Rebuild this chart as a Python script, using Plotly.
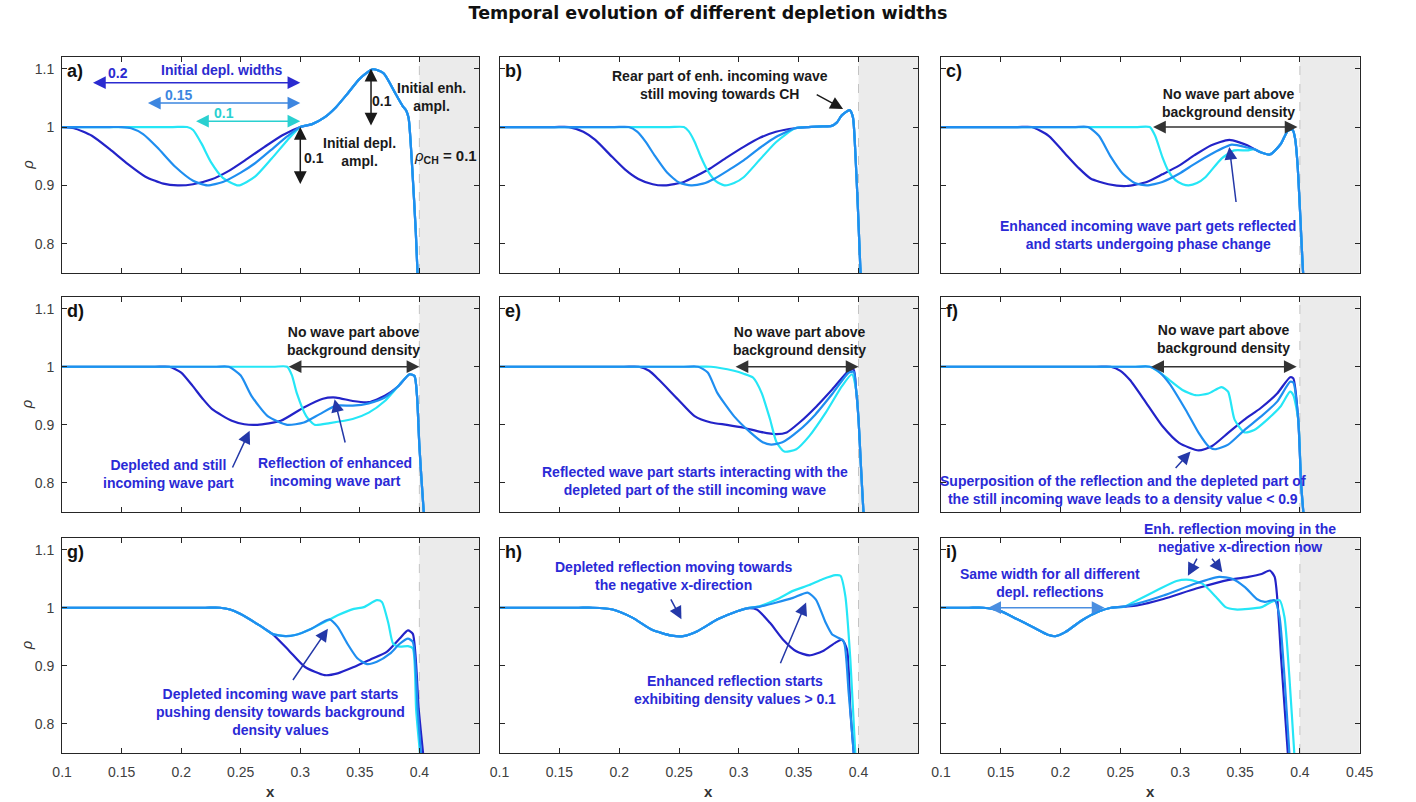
import plotly.graph_objects as go

# ---------------- data ----------------
# panel a
A_DARK_X = [0.10, 0.11, 0.125, 0.14, 0.155, 0.17, 0.185, 0.197, 0.21, 0.225, 0.24, 0.255, 0.27, 0.285]
A_DARK_Y = [1.0, 0.998, 0.985, 0.962, 0.937, 0.915, 0.903, 0.900, 0.902, 0.910, 0.925, 0.945, 0.966, 0.986]
A_MED_X = [0.10, 0.14, 0.15, 0.158, 0.168, 0.18, 0.195, 0.21, 0.222, 0.235, 0.25, 0.262, 0.275, 0.289]
A_MED_Y = [1.0, 1.0, 1.0, 0.998, 0.988, 0.965, 0.932, 0.908, 0.900, 0.906, 0.922, 0.938, 0.960, 0.984]
A_CYAN_X = [0.10, 0.193, 0.205, 0.21, 0.217, 0.225, 0.235, 0.248, 0.262, 0.276, 0.289]
A_CYAN_Y = [1.0, 1.0, 1.0, 0.995, 0.972, 0.940, 0.913, 0.900, 0.915, 0.946, 0.977]
A_TAIL_X = [0.30, 0.31, 0.32, 0.33, 0.34, 0.35, 0.361, 0.37, 0.38, 0.386, 0.389, 0.391, 0.394, 0.397, 0.3995]
A_TAIL_Y = [1.0, 1.005, 1.016, 1.034, 1.058, 1.083, 1.099, 1.092, 1.057, 1.036, 1.028, 1.015, 0.93, 0.82, 0.70]

# panel b
B_DARK_X = [0.10, 0.146, 0.158, 0.17, 0.18, 0.194, 0.205, 0.216, 0.228, 0.238, 0.254, 0.265, 0.276, 0.29, 0.304, 0.318, 0.331]
B_DARK_Y = [1.0, 1.0, 1.0, 0.992, 0.978, 0.949, 0.927, 0.911, 0.902, 0.900, 0.906, 0.917, 0.929, 0.948, 0.966, 0.982, 0.992]
B_MED_X = [0.10, 0.196, 0.208, 0.215, 0.222, 0.23, 0.24, 0.25, 0.26, 0.27, 0.28, 0.292, 0.304, 0.318, 0.331]
B_MED_Y = [1.0, 1.0, 1.0, 0.992, 0.975, 0.950, 0.922, 0.905, 0.900, 0.903, 0.912, 0.927, 0.943, 0.965, 0.983]
B_CYAN_X = [0.10, 0.242, 0.254, 0.258, 0.263, 0.268, 0.274, 0.281, 0.288, 0.296, 0.304, 0.317, 0.331]
B_CYAN_Y = [1.0, 1.0, 1.0, 0.993, 0.975, 0.950, 0.925, 0.907, 0.900, 0.904, 0.914, 0.943, 0.974]
B_TAIL_X = [0.347, 0.358, 0.37, 0.3775, 0.382, 0.386, 0.3926, 0.3953, 0.3975, 0.3995, 0.4015, 0.403]
B_TAIL_Y = [0.998, 1.0, 1.001, 1.002, 1.008, 1.02, 1.029, 1.017, 0.95, 0.86, 0.76, 0.70]

# panel c
C_DARK_X = [0.10, 0.164, 0.176, 0.19, 0.204, 0.215, 0.225, 0.24, 0.255, 0.272, 0.285, 0.299, 0.312, 0.326, 0.341, 0.356]
C_DARK_Y = [1.0, 1.0, 1.0, 0.985, 0.954, 0.930, 0.912, 0.902, 0.899, 0.906, 0.919, 0.934, 0.952, 0.969, 0.978, 0.969]
C_MED_X = [0.10, 0.211, 0.223, 0.232, 0.242, 0.252, 0.262, 0.272, 0.285, 0.299, 0.312, 0.326, 0.343, 0.356]
C_MED_Y = [1.0, 1.0, 1.0, 0.985, 0.949, 0.920, 0.904, 0.900, 0.906, 0.920, 0.937, 0.954, 0.970, 0.965]
C_CYAN_X = [0.10, 0.2625, 0.2745, 0.279, 0.285, 0.29, 0.296, 0.302, 0.307, 0.314, 0.321, 0.3345, 0.345, 0.356]
C_CYAN_Y = [1.0, 1.0, 1.0, 0.985, 0.949, 0.925, 0.909, 0.902, 0.900, 0.904, 0.914, 0.946, 0.960, 0.960]
C_TAIL_X = [0.362, 0.367, 0.375, 0.384, 0.39, 0.394, 0.396, 0.398, 0.4005, 0.4027, 0.405]
C_TAIL_Y = [0.962, 0.957, 0.953, 0.971, 0.994, 0.995, 0.980, 0.937, 0.84, 0.75, 0.70]

# panel d
D_DARK_X = [0.10, 0.178, 0.19, 0.20, 0.2096, 0.218, 0.226, 0.2425, 0.253, 0.264, 0.2836, 0.303, 0.319, 0.33, 0.344, 0.3575, 0.371]
D_DARK_Y = [1.0, 1.0, 1.0, 0.990, 0.967, 0.945, 0.927, 0.907, 0.901, 0.900, 0.907, 0.930, 0.945, 0.947, 0.941, 0.939, 0.950]
D_MED_X = [0.10, 0.228, 0.24, 0.25, 0.259, 0.2726, 0.289, 0.303, 0.316, 0.33, 0.344, 0.3575, 0.371]
D_MED_Y = [1.0, 1.0, 1.0, 0.985, 0.950, 0.915, 0.900, 0.904, 0.918, 0.933, 0.933, 0.937, 0.947]
D_CYAN_X = [0.10, 0.277, 0.289, 0.293, 0.297, 0.305, 0.312, 0.3247, 0.344, 0.3575, 0.371]
D_CYAN_Y = [1.0, 1.0, 1.0, 0.985, 0.955, 0.915, 0.900, 0.903, 0.910, 0.921, 0.941]
D_TAIL_X = [0.382, 0.3918, 0.3959, 0.398, 0.40, 0.4035, 0.406]
D_TAIL_Y = [0.966, 0.987, 0.984, 0.950, 0.864, 0.755, 0.70]

# panel e
E_DARK_X = [0.10, 0.204, 0.2164, 0.225, 0.233, 0.249, 0.263, 0.2767, 0.29, 0.304, 0.318, 0.3315, 0.34, 0.3507, 0.364, 0.378, 0.392, 0.396]
E_DARK_Y = [1.0, 1.0, 1.0, 0.993, 0.978, 0.944, 0.915, 0.904, 0.900, 0.895, 0.888, 0.884, 0.887, 0.904, 0.930, 0.961, 0.993, 0.995]
E_MED_X = [0.10, 0.254, 0.266, 0.274, 0.282, 0.2959, 0.3096, 0.32, 0.327, 0.3364, 0.35, 0.364, 0.378, 0.392, 0.396]
E_MED_Y = [1.0, 1.0, 1.0, 0.990, 0.955, 0.915, 0.887, 0.870, 0.866, 0.870, 0.890, 0.918, 0.953, 0.990, 0.991]
E_CYAN_X = [0.10, 0.2647, 0.2767, 0.2959, 0.304, 0.312, 0.319, 0.326, 0.3315, 0.338, 0.348, 0.359, 0.3726, 0.3863, 0.3945]
E_CYAN_Y = [1.0, 1.0, 1.0, 0.993, 0.988, 0.981, 0.955, 0.910, 0.870, 0.854, 0.858, 0.881, 0.921, 0.967, 0.987]
E_TAIL_X = [0.398, 0.40, 0.402, 0.404, 0.406]
E_TAIL_Y = [0.960, 0.910, 0.830, 0.755, 0.70]

# panel f
F_DARK_X = [0.10, 0.23, 0.2418, 0.25, 0.258, 0.2718, 0.2854, 0.299, 0.3154, 0.3263, 0.34, 0.3536, 0.3673, 0.381, 0.3918, 0.3945]
F_DARK_Y = [1.0, 1.0, 1.0, 0.993, 0.977, 0.937, 0.897, 0.869, 0.856, 0.863, 0.886, 0.909, 0.929, 0.954, 0.982, 0.980]
F_MED_X = [0.10, 0.2625, 0.2745, 0.283, 0.291, 0.3045, 0.3154, 0.3236, 0.329, 0.34, 0.3536, 0.3673, 0.381, 0.3918, 0.3945]
F_MED_Y = [1.0, 1.0, 1.0, 0.990, 0.971, 0.926, 0.886, 0.863, 0.858, 0.866, 0.891, 0.914, 0.940, 0.974, 0.973]
F_CYAN_X = [0.10, 0.2625, 0.2745, 0.283, 0.291, 0.3018, 0.3127, 0.3236, 0.3345, 0.34, 0.3454, 0.3536, 0.3618, 0.3727, 0.3836, 0.3918, 0.3945]
F_CYAN_Y = [1.0, 1.0, 1.0, 0.990, 0.977, 0.960, 0.951, 0.954, 0.965, 0.957, 0.909, 0.887, 0.891, 0.909, 0.931, 0.957, 0.951]
F_TAIL_X = [0.3986, 0.401, 0.4027, 0.405]
F_TAIL_Y = [0.909, 0.800, 0.754, 0.70]

# panel g
G_HEAD_X = [0.10, 0.22, 0.2326, 0.241, 0.249, 0.2655, 0.2765]
G_HEAD_Y = [1.0, 1.0, 1.0, 0.997, 0.990, 0.970, 0.955]
G_DARK_X = [0.2902, 0.304, 0.3204, 0.3314, 0.345, 0.3589, 0.3726, 0.3835, 0.3904, 0.3945, 0.3995, 0.4031, 0.406]
G_DARK_Y = [0.927, 0.898, 0.884, 0.887, 0.898, 0.911, 0.924, 0.947, 0.961, 0.955, 0.824, 0.75, 0.70]
G_MED_X = [0.2875, 0.2957, 0.3094, 0.3245, 0.3314, 0.3396, 0.3479, 0.356, 0.3643, 0.3753, 0.3835, 0.3904, 0.3945, 0.3986, 0.4014, 0.404]
G_MED_Y = [0.951, 0.953, 0.964, 0.980, 0.967, 0.938, 0.913, 0.903, 0.907, 0.921, 0.938, 0.947, 0.941, 0.824, 0.75, 0.70]
G_CYAN_X = [0.2875, 0.2957, 0.3094, 0.323, 0.3314, 0.345, 0.3534, 0.3643, 0.3685, 0.374, 0.378, 0.3835, 0.3904, 0.3945, 0.3973, 0.4005, 0.403]
G_CYAN_Y = [0.951, 0.953, 0.964, 0.978, 0.987, 0.998, 1.001, 1.013, 1.010, 0.973, 0.938, 0.933, 0.934, 0.930, 0.824, 0.75, 0.70]

# panel h
H_HEAD_X = [0.10, 0.166, 0.178, 0.1945, 0.211, 0.2274, 0.2438, 0.2534, 0.2658, 0.2822, 0.2986, 0.3068]
H_HEAD_Y = [1.0, 1.0, 1.0, 0.997, 0.983, 0.962, 0.952, 0.951, 0.960, 0.980, 0.994, 0.999]
H_DARK_X = [0.315, 0.326, 0.337, 0.348, 0.3589, 0.3699, 0.3808, 0.3863, 0.3904, 0.3932, 0.396, 0.398]
H_DARK_Y = [0.997, 0.974, 0.945, 0.925, 0.918, 0.925, 0.940, 0.945, 0.928, 0.824, 0.75, 0.70]
H_MED_X = [0.3178, 0.3315, 0.3452, 0.3575, 0.3644, 0.3726, 0.378, 0.3836, 0.3877, 0.3918, 0.396, 0.398]
H_MED_Y = [1.002, 1.009, 1.017, 1.026, 1.014, 0.974, 0.954, 0.948, 0.942, 0.853, 0.75, 0.70]
H_CYAN_X = [0.3178, 0.3315, 0.3452, 0.3589, 0.3699, 0.3808, 0.3849, 0.389, 0.3932, 0.3973, 0.399]
H_CYAN_Y = [1.003, 1.014, 1.029, 1.039, 1.049, 1.056, 1.055, 1.020, 0.910, 0.75, 0.70]

# panel i
I_HEAD_X = [0.10, 0.1235, 0.1355, 0.149, 0.163, 0.1766, 0.19, 0.1957, 0.2039, 0.2176, 0.2313, 0.2422, 0.2531]
I_HEAD_Y = [1.0, 1.0, 1.0, 0.995, 0.981, 0.967, 0.953, 0.951, 0.958, 0.978, 0.993, 1.0, 1.002]
I_DARK_X = [0.264, 0.2859, 0.3133, 0.3406, 0.357, 0.368, 0.3748, 0.3789, 0.3844, 0.3899, 0.392]
I_DARK_Y = [1.004, 1.015, 1.033, 1.048, 1.053, 1.058, 1.064, 1.053, 0.910, 0.75, 0.70]
I_MED_X = [0.264, 0.2859, 0.3133, 0.3324, 0.3434, 0.3543, 0.3639, 0.3707, 0.3789, 0.383, 0.3871, 0.3912, 0.393]
I_MED_Y = [1.007, 1.021, 1.042, 1.053, 1.050, 1.035, 1.015, 1.010, 1.013, 0.984, 0.881, 0.75, 0.70]
I_CYAN_X = [0.264, 0.2805, 0.2969, 0.3078, 0.3188, 0.3297, 0.3379, 0.3461, 0.357, 0.368, 0.3762, 0.383, 0.3871, 0.3912, 0.3953, 0.397]
I_CYAN_Y = [1.013, 1.030, 1.046, 1.048, 1.041, 1.019, 1.001, 0.997, 0.998, 1.001, 1.010, 1.013, 0.984, 0.881, 0.75, 0.70]

PANEL_LABELS = ["a)", "b)", "c)", "d)", "e)", "f)", "g)", "h)", "i)"]
X_TICKS = [0.1, 0.15, 0.2, 0.25, 0.3, 0.35, 0.4]
X_TICKS_LAST = [0.1, 0.15, 0.2, 0.25, 0.3, 0.35, 0.4, 0.45]
Y_TICKS = [0.8, 0.9, 1.0, 1.1]
Y_TICK_TEXT = ["0.8", "0.9", "1", "1.1"]

# curves per panel: (dark, medium, cyan), each as (x, y)
CURVES = [
    ((A_DARK_X + A_TAIL_X, A_DARK_Y + A_TAIL_Y), (A_MED_X + A_TAIL_X, A_MED_Y + A_TAIL_Y), (A_CYAN_X + A_TAIL_X, A_CYAN_Y + A_TAIL_Y)),
    ((B_DARK_X + B_TAIL_X, B_DARK_Y + B_TAIL_Y), (B_MED_X + B_TAIL_X, B_MED_Y + B_TAIL_Y), (B_CYAN_X + B_TAIL_X, B_CYAN_Y + B_TAIL_Y)),
    ((C_DARK_X + C_TAIL_X, C_DARK_Y + C_TAIL_Y), (C_MED_X + C_TAIL_X, C_MED_Y + C_TAIL_Y), (C_CYAN_X + C_TAIL_X, C_CYAN_Y + C_TAIL_Y)),
    ((D_DARK_X + D_TAIL_X, D_DARK_Y + D_TAIL_Y), (D_MED_X + D_TAIL_X, D_MED_Y + D_TAIL_Y), (D_CYAN_X + D_TAIL_X, D_CYAN_Y + D_TAIL_Y)),
    ((E_DARK_X + E_TAIL_X, E_DARK_Y + E_TAIL_Y), (E_MED_X + E_TAIL_X, E_MED_Y + E_TAIL_Y), (E_CYAN_X + E_TAIL_X, E_CYAN_Y + E_TAIL_Y)),
    ((F_DARK_X + F_TAIL_X, F_DARK_Y + F_TAIL_Y), (F_MED_X + F_TAIL_X, F_MED_Y + F_TAIL_Y), (F_CYAN_X + F_TAIL_X, F_CYAN_Y + F_TAIL_Y)),
    ((G_HEAD_X + G_DARK_X, G_HEAD_Y + G_DARK_Y), (G_HEAD_X + G_MED_X, G_HEAD_Y + G_MED_Y), (G_HEAD_X + G_CYAN_X, G_HEAD_Y + G_CYAN_Y)),
    ((H_HEAD_X + H_DARK_X, H_HEAD_Y + H_DARK_Y), (H_HEAD_X + H_MED_X, H_HEAD_Y + H_MED_Y), (H_HEAD_X + H_CYAN_X, H_HEAD_Y + H_CYAN_Y)),
    ((I_HEAD_X + I_DARK_X, I_HEAD_Y + I_DARK_Y), (I_HEAD_X + I_MED_X, I_HEAD_Y + I_MED_Y), (I_HEAD_X + I_CYAN_X, I_HEAD_Y + I_CYAN_Y)),
]

# ---------------- style / layout ----------------
W, H = 1416, 802
COLS = [(53, 477), (498, 924), (947, 1373)]
ROWS = [(57, 273), (297, 512), (538, 753)]
FONT = "Liberation Sans, Arial, sans-serif"
DARK = "#2323c8"
MED = "#1f8ef0"
CYAN = "#25e6f6"
ANN_BLUE = "#2a2ad6"
ARR_BLUE = "#2438a8"
BLACK = "#1a1a1a"
AXC = "#262626"

fig = go.Figure()


def sfx(k):
    return "" if k == 1 else str(k)


for k in range(1, 10):
    r, c = (k - 1) // 3, (k - 1) % 3
    s = sfx(k)
    dark, med, cyan = CURVES[k - 1]
    for (xs, ys), col in ((dark, DARK), (cyan, CYAN), (med, MED)):
        fig.add_trace(go.Scatter(x=xs, y=ys, mode="lines", xaxis="x" + s, yaxis="y" + s,
                                 line=dict(color=col, width=2.2, shape="spline", smoothing=0.6),
                                 showlegend=False, hoverinfo="skip"))
    xt = X_TICKS_LAST if c == 2 else X_TICKS
    fig.layout["xaxis" + s] = dict(
        domain=[COLS[c][0] / W, COLS[c][1] / W], range=[0.1, 0.45], anchor="y" + s,
        tickvals=xt, ticktext=[f"{v:g}" for v in xt],
        showticklabels=(r == 2), ticks="inside", ticklen=5, tickcolor=AXC, ticklabelstandoff=6,
        showline=True, linecolor=AXC, linewidth=1, mirror="ticks", showgrid=False, zeroline=False,
        tickfont=dict(family=FONT, size=14, color="#404040"))
    fig.layout["yaxis" + s] = dict(
        domain=[1 - ROWS[r][1] / H, 1 - ROWS[r][0] / H], range=[0.75, 1.12], anchor="x" + s,
        tickvals=Y_TICKS, ticktext=Y_TICK_TEXT, showticklabels=(c == 0),
        ticks="inside", ticklen=5, tickcolor=AXC, ticklabelstandoff=4,
        showline=True, linecolor=AXC, linewidth=1, mirror="ticks", showgrid=False, zeroline=False,
        tickfont=dict(family=FONT, size=14, color="#404040"))
    # coronal hole region
    fig.add_shape(type="rect", xref="x" + s, yref="y" + s + " domain", x0=0.4, x1=0.45, y0=0, y1=1,
                  fillcolor="#ebebeb", line=dict(width=0), layer="below")
    fig.add_shape(type="line", xref="x" + s, yref="y" + s + " domain", x0=0.4, x1=0.4, y0=0, y1=1,
                  line=dict(color="#c4c4c4", width=1, dash="dash"), layer="below")
    # panel label
    fig.add_annotation(xref="x" + s, yref="y" + s, x=0.1025, y=1.096, text="<b>" + PANEL_LABELS[k - 1] + "</b>",
                       showarrow=False, xanchor="left", yanchor="middle",
                       font=dict(family=FONT, size=18, color="#111111"))
    # axis labels
    if r == 2:
        fig.add_annotation(xref="paper", yref="paper", x=(COLS[c][0] + COLS[c][1]) / 2 / W, y=1 - 791 / H,
                           text="<b>x</b>", showarrow=False, xanchor="center", yanchor="middle",
                           font=dict(family=FONT, size=15, color="#333333"))
    if c == 0:
        fig.add_annotation(xref="paper", yref="paper", x=17 / W, y=1 - (ROWS[r][0] + ROWS[r][1]) / 2 / H,
                           text="<i>ρ</i>", showarrow=False, textangle=-90, xanchor="center", yanchor="middle",
                           font=dict(family=FONT, size=15, color="#333333"))


def txt(k, x, y, t, color=BLACK, size=14):
    s = sfx(k)
    fig.add_annotation(xref="x" + s, yref="y" + s, x=x, y=y, text="<b>" + t + "</b>", showarrow=False,
                       align="center", xanchor="center", yanchor="middle",
                       font=dict(family=FONT, size=size, color=color))


def arrow(k, x0, y0, x1, y1, color=BLACK, both=False, width=1.5, size=1.7):
    s = sfx(k)
    fig.add_annotation(xref="x" + s, yref="y" + s, axref="x" + s, ayref="y" + s,
                       x=x1, y=y1, ax=x0, ay=y0, text="", showarrow=True,
                       arrowhead=2, arrowsize=size, arrowwidth=width, arrowcolor=color,
                       arrowside="end+start" if both else "end",
                       startarrowhead=2, startarrowsize=size, standoff=0, startstandoff=0)


# panel a
arrow(1, 0.1247, 1.076, 0.3, 1.076, "#2b2bd0", both=True)
txt(1, 0.1467, 1.092, "0.2", "#2b2bd0")
txt(1, 0.234, 1.097, "Initial depl. widths", "#2b2bd0")
arrow(1, 0.1708, 1.041, 0.3, 1.041, "#3d86e0", both=True)
txt(1, 0.1975, 1.055, "0.15", "#3d86e0")
arrow(1, 0.2112, 1.010, 0.3, 1.010, "#2ad0d0", both=True)
txt(1, 0.2359, 1.024, "0.1", "#2ad0d0")
arrow(1, 0.3, 0.9, 0.3, 1.0, BLACK, both=True)
txt(1, 0.3114, 0.947, "0.1")
txt(1, 0.35, 0.958, "Initial depl.<br>ampl.")
arrow(1, 0.3594, 1.0, 0.3594, 1.1, BLACK, both=True)
txt(1, 0.369, 1.045, "0.1")
txt(1, 0.41, 1.052, "Initial enh.<br>ampl.")
fig.add_annotation(xref="x", yref="y", x=0.4217, y=0.949, showarrow=False,
                   text="<i>ρ</i><sub><b>CH</b></sub><b> = 0.1</b>",
                   font=dict(family=FONT, size=15, color=BLACK))
txt(1, 0.398, 1.136, "QS CH")
arrow(1, 0.380, 1.136, 0.3564, 1.136, BLACK)
arrow(1, 0.417, 1.136, 0.4426, 1.136, BLACK)

# panel b
txt(2, 0.2844, 1.0715, "Rear part of enh. incoming wave<br>still moving towards CH")
arrow(2, 0.3638, 1.057, 0.3871, 1.031, BLACK)

# panel c
arrow(3, 0.276, 1.0, 0.398, 1.0, "#333333", both=True)
txt(3, 0.34, 1.0415, "No wave part above<br>background density")
arrow(3, 0.3468, 0.869, 0.341, 0.966, ARR_BLUE)
txt(3, 0.273, 0.8155, "Enhanced incoming wave part gets reflected<br>and starts undergoing phase change", ANN_BLUE)

# panel d
arrow(4, 0.289, 1.0, 0.4, 1.0, "#333333", both=True)
txt(4, 0.345, 1.045, "No wave part above<br>background density")
arrow(4, 0.2425, 0.824, 0.2575, 0.89, ARR_BLUE)
txt(4, 0.189, 0.8155, "Depleted and still<br>incoming wave part", ANN_BLUE)
arrow(4, 0.338, 0.867, 0.3288, 0.944, ARR_BLUE)
txt(4, 0.3288, 0.8195, "Reflection of enhanced<br>incoming wave part", ANN_BLUE)

# panel e
arrow(5, 0.296, 1.0, 0.4, 1.0, "#333333", both=True)
txt(5, 0.3507, 1.0435, "No wave part above<br>background density")
txt(5, 0.263, 0.804, "Reflected wave part starts interacting with the<br>depleted part of the still incoming wave", ANN_BLUE)

# panel f
arrow(6, 0.2745, 1.0, 0.3973, 1.0, "#333333", both=True)
txt(6, 0.3359, 1.047, "No wave part above<br>background density")
arrow(6, 0.295, 0.823, 0.3086, 0.854, ARR_BLUE)
txt(6, 0.2519, 0.788, "Superposition of the reflection and the depleted part of<br>the still incoming wave leads to a density value &lt; 0.9", ANN_BLUE)

# panel g
arrow(7, 0.293, 0.873, 0.3232, 0.964, ARR_BLUE)
txt(7, 0.2834, 0.821, "Depleted incoming wave part starts<br>pushing density towards background<br>density values", ANN_BLUE)

# panel h
arrow(8, 0.2425, 1.017, 0.252, 0.98, ARR_BLUE)
txt(8, 0.2452, 1.054, "Depleted reflection moving towards<br>the negative x-direction", ANN_BLUE)
arrow(8, 0.3342, 0.902, 0.3562, 1.009, ARR_BLUE)
txt(8, 0.2964, 0.859, "Enhanced reflection starts<br>exhibiting density values &gt; 0.1", ANN_BLUE)

# panel i
txt(9, 0.35, 1.1195, "Enh. reflection moving in the<br>negative x-direction now", ANN_BLUE)
arrow(9, 0.3146, 1.087, 0.3064, 1.055, ARR_BLUE)
arrow(9, 0.3256, 1.087, 0.3352, 1.061, ARR_BLUE)
txt(9, 0.1908, 1.042, "Same width for all different<br>depl. reflections", ANN_BLUE)
arrow(9, 0.1383, 1.0, 0.2367, 1.0, "#4a8ee0", both=True)

fig.update_layout(
    width=W, height=H, margin=dict(l=0, r=0, t=0, b=0),
    paper_bgcolor="white", plot_bgcolor="white",
    title=dict(text="<b>Temporal evolution of different depletion widths</b>", x=0.5, xanchor="center",
               y=1 - 13 / H, yanchor="middle", font=dict(family="DejaVu Sans, sans-serif", size=17.5, color="#111111")),
    showlegend=False,
)

fig.write_html("out.html")
